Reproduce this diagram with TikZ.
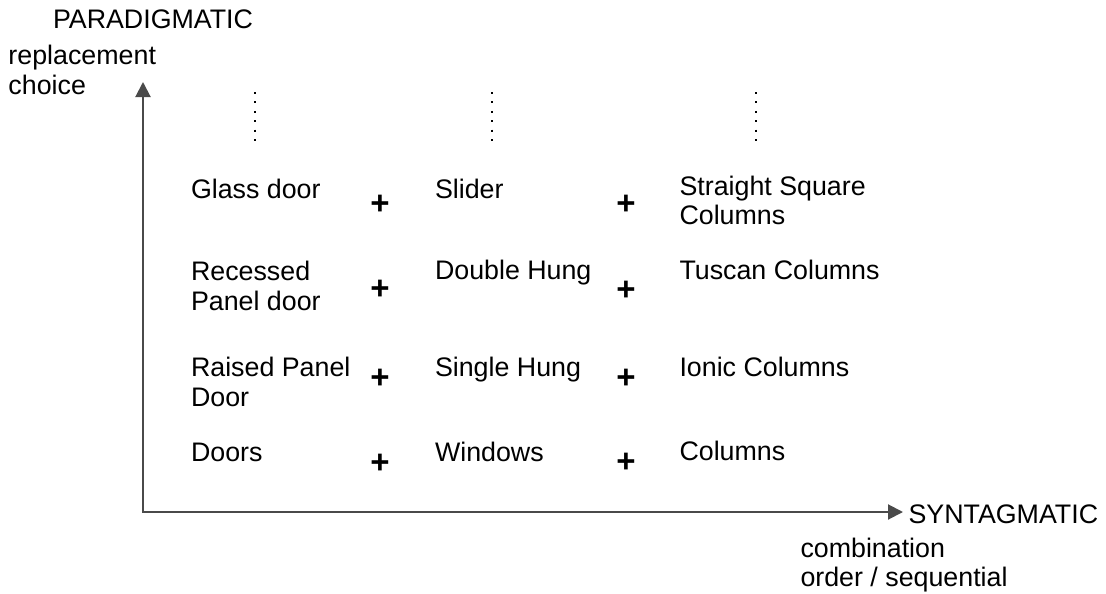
\documentclass[tikz,border=0pt]{standalone}
\usepackage{fontspec}
\setmainfont{Liberation Sans}
\usetikzlibrary{arrows.meta}
\definecolor{axisgray}{HTML}{4A4A4A}
% two stacked lines, baseline on the first one
\newcommand{\twolines}[2]{\begin{tabular}[t]{@{}l@{}}#1\\#2\end{tabular}}
\begin{document}
\begin{tikzpicture}[x=1pt,y=-1pt,
  every node/.style={inner sep=0pt, outer sep=0pt,
    font=\fontsize{26.8}{29.5}\selectfont, anchor=base west},
  plus/.style={anchor=base, font=\fontsize{33}{34}\selectfont\bfseries},
  axis/.style={draw=axisgray, line width=2pt, line join=miter,
    {Triangle[length=15pt,width=15pt]}-{Triangle[length=15pt,width=15pt]}},
  more/.style={line width=1.8pt, dash pattern=on 2pt off 7.4pt}
]
\useasboundingbox (0,0) rectangle (1106,594);

% axes
\coordinate (ytip) at (143,82);
\coordinate (origin) at (143,512);
\coordinate (xtip) at (903,512);
\draw[axis] (ytip) -- (origin) -- (xtip);

% axis labels
\node (para) at (53,29) {PARADIGMATIC};
\node (repl) at (8.5,65) {\twolines{replacement}{choice}};
\node (synt) at (908.5,523) {SYNTAGMATIC};
\node (comb) at (800.5,557) {\twolines{combination}{order / sequential}};

% continuation dots above each column
\coordinate (d1a) at (255,92);  \coordinate (d1b) at (255,141);
\coordinate (d2a) at (492,92);  \coordinate (d2b) at (492,141);
\coordinate (d3a) at (756,92);  \coordinate (d3b) at (756,141);
\draw[more] (d1a) -- (d1b);
\draw[more] (d2a) -- (d2b);
\draw[more] (d3a) -- (d3b);

% column 1: doors
\node (a1) at (191,198) {Glass door};
\node (a2) at (191,280.5) {\twolines{Recessed}{Panel door}};
\node (a3) at (191,376.5) {\twolines{Raised Panel}{Door}};
\node (a4) at (191,461.5) {Doors};

% column 2: windows
\node (b1) at (435,198) {Slider};
\node (b2) at (435,279.5) {Double Hung};
\node (b3) at (435,376.5) {Single Hung};
\node (b4) at (435,461.5) {Windows};

% column 3: columns
\node (c1) at (679.5,195) {\twolines{Straight Square}{Columns}};
\node (c2) at (679.5,279.5) {Tuscan Columns};
\node (c3) at (679.5,376.5) {Ionic Columns};
\node (c4) at (679.5,460.5) {Columns};

% combination signs
\node[plus] (p11) at (380,214.5) {+};
\node[plus] (p12) at (380,299) {+};
\node[plus] (p13) at (380,388.5) {+};
\node[plus] (p14) at (380,473) {+};
\node[plus] (p21) at (626,214.5) {+};
\node[plus] (p22) at (626,300) {+};
\node[plus] (p23) at (626,388) {+};
\node[plus] (p24) at (626,472) {+};
\end{tikzpicture}
\end{document}
